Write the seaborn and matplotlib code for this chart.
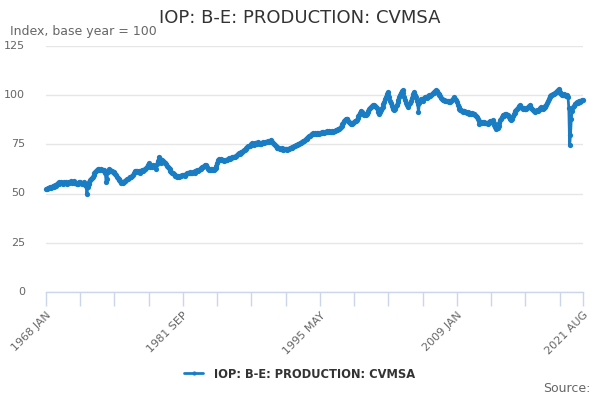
import numpy as np
import pandas as pd
import matplotlib
matplotlib.use("Agg")
import matplotlib.pyplot as plt
import seaborn as sns

# Data: monthly index values, 1968 JAN .. 2021 AUG
vals_1968_1979 = [
    52.1, 52.4, 52.8, 52.6, 53.0, 53.2, 53.0, 53.4, 53.6, 53.5, 53.9, 54.2,
    54.0, 54.6, 55.2, 55.6, 55.0, 55.4, 55.8, 55.3, 54.8, 55.5, 55.9, 55.2,
    55.6, 54.9, 55.4, 55.9, 55.2, 55.7, 56.1, 55.4, 55.8, 56.2, 55.5, 55.1,
    55.3, 54.6, 55.0, 55.6, 55.2, 55.8, 55.4, 54.9, 55.3, 55.6, 55.1, 54.5,
    53.8, 49.6, 53.2, 55.0, 56.0, 56.8, 57.5, 57.8, 58.6, 59.4, 60.2, 61.0,
    61.5, 61.8, 62.2, 61.9, 62.3, 62.0, 62.4, 62.1, 61.7, 61.9, 61.5, 60.2,
    56.0, 57.2, 60.8, 61.6, 62.3, 61.8, 61.2, 61.5, 60.9, 61.1, 60.4, 59.8,
    59.2, 58.6, 58.0, 57.3, 56.8, 56.2, 55.5, 55.8, 55.4, 56.0, 56.5, 56.3,
    56.9, 57.4, 57.2, 57.8, 58.3, 58.6, 58.2, 58.9, 59.5, 60.2, 60.8, 61.3,
    61.6, 61.2, 60.8, 61.3, 61.0, 60.6, 61.2, 61.7, 61.5, 62.0, 62.4, 62.2,
    62.8, 63.6, 64.5, 65.3, 64.0, 63.5, 64.2, 63.6, 64.5, 63.8, 63.2, 64.0,
    62.6, 64.8, 66.5, 68.5, 67.6, 66.2, 65.5, 66.8, 66.3, 66.0, 65.6, 65.3,
]
vals_1980_1991 = [
    64.8, 64.0, 63.5, 62.8, 62.2, 61.5, 60.8, 60.6, 60.2, 59.8, 59.4, 59.0,
    58.8, 58.6, 58.9, 58.5, 58.7, 59.0, 58.8, 59.2, 59.6, 59.3, 59.0, 59.4,
    59.8, 60.5, 60.2, 60.6, 60.3, 60.8, 60.5, 60.2, 60.7, 61.0, 60.6, 61.2,
    61.4, 61.7, 61.3, 61.9, 62.2, 62.6, 62.9, 63.3, 63.6, 63.9, 64.3, 64.7,
    64.2, 63.4, 62.3, 61.9, 62.1, 62.6, 62.0, 62.4, 61.8, 62.0, 62.5, 63.0,
    64.0, 65.5, 66.8, 67.6, 67.2, 66.8, 67.3, 66.9, 67.1, 66.6, 67.0, 66.8,
    67.2, 66.8, 67.4, 67.9, 67.6, 68.1, 67.8, 68.3, 68.5, 68.7, 68.4, 69.0,
    69.2, 69.6, 70.0, 70.4, 70.2, 70.8, 71.2, 71.0, 71.5, 72.0, 72.3, 72.8,
    73.2, 73.6, 73.9, 74.3, 74.0, 74.6, 75.0, 75.5, 75.2, 74.8, 75.4, 75.8,
    75.5, 75.2, 75.9, 75.6, 75.3, 75.8, 75.1, 75.6, 76.0, 75.7, 76.2, 75.9,
    76.3, 76.0, 76.6, 76.2, 76.8, 77.2, 76.7, 76.3, 75.8, 75.2, 74.6, 74.0,
    73.6, 73.2, 72.9, 73.1, 72.8, 72.5, 72.9, 72.6, 72.3, 72.7, 72.4, 72.6,
]
vals_1992_2003 = [
    72.2, 72.4, 72.8, 72.5, 73.0, 73.3, 73.1, 73.6, 73.8, 74.2, 74.0, 74.6,
    74.4, 74.8, 75.2, 75.0, 75.5, 75.8, 76.2, 76.0, 76.5, 76.9, 77.2, 77.5,
    77.9, 78.3, 78.6, 79.0, 79.4, 79.8, 80.2, 80.0, 80.5, 80.2, 80.6, 80.3,
    80.5, 80.1, 80.6, 80.3, 80.8, 80.5, 81.0, 80.7, 81.1, 80.8, 81.2, 81.0,
    81.3, 81.6, 81.2, 81.5, 81.0, 81.4, 81.7, 81.3, 81.0, 81.5, 81.8, 82.0,
    82.3, 82.0, 82.6, 82.9, 83.3, 83.8, 84.5, 85.2, 86.0, 86.8, 87.4, 87.8,
    88.0, 87.6, 87.0, 86.4, 85.8, 85.4, 85.6, 85.4, 85.9, 86.3, 86.8, 87.0,
    87.5, 88.3, 89.2, 90.1, 91.0, 92.0, 91.6, 90.6, 90.2, 89.9, 90.3, 89.7,
    90.4, 91.2, 92.0, 93.0, 93.5, 94.0, 94.4, 94.8, 94.5, 94.8, 94.2, 94.0,
    93.5, 92.6, 91.4, 90.5, 91.2, 92.4, 93.2, 94.0, 95.2, 96.5, 98.0, 99.2,
    100.4, 101.5, 100.2, 99.0, 97.0, 95.8, 94.5, 93.6, 93.0, 92.2, 93.0, 94.2,
    95.0, 96.3, 97.6, 99.0, 100.2, 101.0, 101.8, 102.4, 101.0, 99.0, 97.5, 96.0,
]
vals_2004_2021 = [
    95.0, 93.9, 94.8, 95.5, 96.0, 97.2, 98.4, 99.5, 100.6, 101.5, 100.2, 98.8,
    97.0, 95.5, 91.4, 95.8, 97.2, 98.0, 97.6, 97.2, 97.8, 98.3, 98.8, 99.0,
    98.6, 99.2, 99.5, 99.8, 99.4, 100.0, 100.3, 100.8, 101.2, 101.6, 102.0, 102.4,
    101.8, 101.2, 100.5, 100.0, 99.4, 98.6, 98.0, 97.6, 97.3, 97.3, 97.0, 97.2,
    97.0, 96.8, 96.5, 96.8, 96.5, 97.2, 97.6, 98.2, 98.6, 99.0, 98.2, 97.4,
    96.2, 95.0, 93.8, 93.0, 92.6, 92.3, 92.0, 91.6, 91.8, 92.0, 91.6, 91.4,
    91.0, 91.2, 90.8, 90.5, 91.0, 90.6, 90.8, 90.3, 90.6, 90.5, 90.0, 89.4,
    89.0, 88.0, 86.8, 85.4, 85.8, 86.2, 85.8, 86.4, 86.0, 86.3, 85.9, 86.0,
    85.6, 85.4, 85.9, 86.5, 87.0, 86.5, 86.9, 87.1, 85.8, 84.6, 83.6, 82.9,
    83.4, 83.0, 84.5, 86.0, 87.2, 88.0, 88.8, 89.7, 89.4, 89.8, 90.2, 90.5,
    90.0, 89.6, 89.0, 88.3, 87.6, 87.1, 88.0, 89.2, 90.4, 91.0, 91.8, 92.5,
    93.0, 93.6, 94.2, 94.8, 94.4, 94.0, 93.6, 93.0, 93.3, 93.0, 92.8, 93.0,
    93.4, 93.9, 94.4, 94.8, 94.2, 93.6, 93.0, 92.4, 91.9, 91.4, 91.8, 92.0,
    92.2, 91.8, 92.4, 92.8, 93.3, 93.9, 93.5, 93.0, 93.4, 93.9, 94.3, 94.8,
    95.8, 97.0, 98.2, 99.0, 99.4, 99.8, 100.0, 100.7, 100.3, 100.8, 101.2, 101.5,
    101.8, 102.4, 103.0, 101.6, 101.0, 100.4, 99.8, 100.2, 100.5, 100.0, 99.8, 99.5,
    99.8, 99.2, 93.5, 74.5, 79.5, 88.0, 92.0, 93.8, 94.6, 95.2, 95.6, 95.9,
    96.3, 96.0, 96.8, 97.0, 96.6, 97.2, 97.5, 97.7,
]
values = vals_1968_1979 + vals_1980_1991 + vals_1992_2003 + vals_2004_2021

months = ["JAN", "FEB", "MAR", "APR", "MAY", "JUN",
          "JUL", "AUG", "SEP", "OCT", "NOV", "DEC"]
periods = [f"{1968 + i // 12} {months[i % 12]}" for i in range(len(values))]

series_name = "IOP: B-E: PRODUCTION: CVMSA"
df = pd.DataFrame({"idx": np.arange(len(values)), "value": values, "period": periods})

# Plot
sns.set_style("white")
plt.rcParams["font.family"] = ["DejaVu Sans"]

line_color = "#1a7dc4"
fig = plt.figure(figsize=(6, 4), dpi=100)
ax = fig.add_axes([46 / 600, 1 - 292 / 400, (583 - 46) / 600, (292 - 45.75) / 400])

sns.lineplot(data=df, x="idx", y="value", ax=ax, color=line_color, linewidth=2,
             marker="o", markersize=3.8, markeredgewidth=0, label=series_name,
             clip_on=False, zorder=3)

ax.set_ylim(0, 125)
ax.set_xlim(0, len(values) - 1)
ax.set_yticks([0, 25, 50, 75, 100, 125])
ax.yaxis.grid(True, color="#e6e6e6", linewidth=1)
ax.set_axisbelow(True)
for s in ["top", "right", "left"]:
    ax.spines[s].set_visible(False)
ax.spines["bottom"].set_color("#ccd6eb")
ax.spines["bottom"].set_linewidth(1)
ax.tick_params(axis="y", left=False, length=0, pad=15, labelsize=8,
               labelcolor="#666666")

tick_pos = list(range(0, len(values), 41)) + [len(values) - 1]
ax.set_xticks(tick_pos)
ax.set_xticklabels([periods[p] if (p % 164 == 0 or p == len(values) - 1) else ""
                    for p in tick_pos],
                   rotation=45, ha="right", rotation_mode="anchor")
ax.tick_params(axis="x", bottom=True, length=10, width=1, color="#ccd6eb",
               direction="out", pad=3, labelsize=8, labelcolor="#666666")
for lbl in ax.get_yticklabels():
    lbl.set_verticalalignment("center")
ax.set_xlabel("")
ax.set_ylabel("")

fig.text(0.5, 1 - 18 / 400, series_name, ha="center", va="center",
         fontsize=13, color="#333333")
fig.text(10 / 600, 1 - 32 / 400, "Index, base year = 100", ha="left",
         va="center", fontsize=9, color="#666666")
fig.text(590 / 600, 1 - 389 / 400, "Source:", ha="right", va="center",
         fontsize=9, color="#666666")

# legend centred on the figure, below the axis labels
leg = ax.legend(loc="center",
                bbox_to_anchor=((300 - 46) / 537, (374 - 292) / -(292 - 45.75)),
                frameon=False, fontsize=8.3, handlelength=1.6, handletextpad=1.0,
                markerscale=0.8)
for t in leg.get_texts():
    t.set_fontweight("bold")
    t.set_color("#333333")

fig.savefig("out.png", dpi=100)
